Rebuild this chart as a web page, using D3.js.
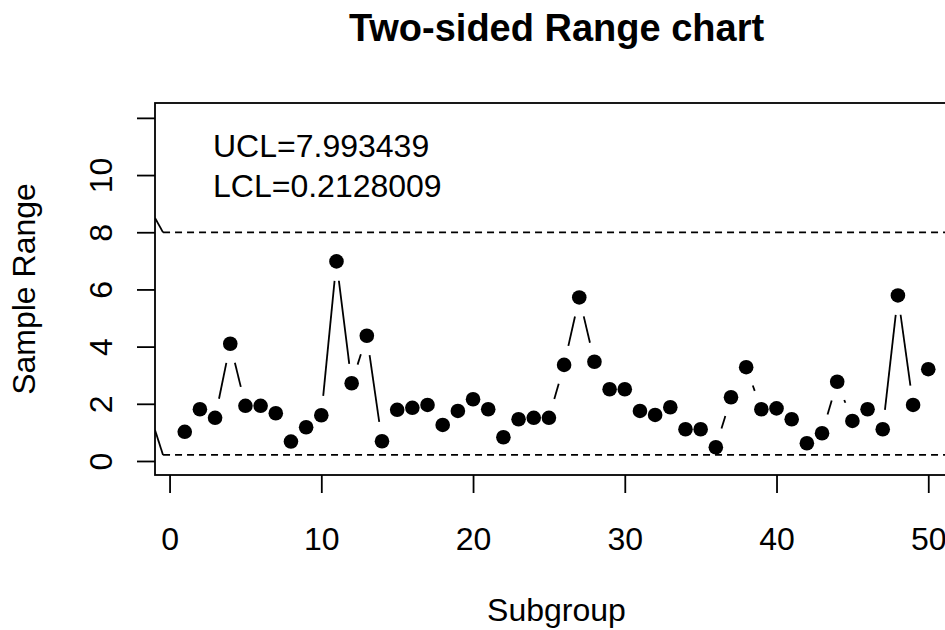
<!DOCTYPE html>
<html>
<head>
<meta charset="utf-8">
<script src="https://cdn.jsdelivr.net/npm/d3@7"></script>
<style>
  body { margin: 0; background: #fff; }
  text { font-family: "Liberation Sans", Arial, sans-serif; fill: #000; }
</style>
</head>
<body>
<div id="chart"></div>
<script>
// sample ranges per subgroup
const subgroups = d3.range(1, 51);
const ranges = [
  1.02, 1.81, 1.51, 4.10, 1.93, 1.93, 1.67, 0.68, 1.18, 1.60,
  6.98, 2.72, 4.38, 0.69, 1.79, 1.86, 1.96, 1.26, 1.75, 2.16,
  1.81, 0.83, 1.46, 1.51, 1.51, 3.36, 5.72, 3.47, 2.51, 2.51,
  1.75, 1.61, 1.88, 1.11, 1.11, 0.48, 2.23, 3.28, 1.81, 1.84,
  1.46, 0.62, 0.97, 2.77, 1.40, 1.81, 1.11, 5.79, 1.96, 3.21
];
const ucl = 7.993439,
      lcl = 0.2128009;
const limitLabels = ["UCL=7.993439", "LCL=0.2128009"];
const xTicks = [0, 10, 20, 30, 40, 50];
const yTicks = [0, 2, 4, 6, 8, 10, 12];
const yLabelled = [0, 2, 4, 6, 8, 10];   // the top tick has no label in the original
// short solid pieces entering the limits at the left edge of the box
const edgeStart = [-0.96, -0.43];
const edgeValues = [[8.5, ucl], [1.08, lcl]];

const width = 945,
      height = 630;
const box = { left: 155, right: 958, top: 103, bottom: 475 };

const svg = d3.select("#chart").append("svg")
    .attr("width", width)
    .attr("height", height);

const x = d3.scaleLinear()
    .domain([-0.96, 51.96])
    .range([box.left, box.right]);

const y = d3.scaleLinear()
    .domain([-0.49, 12.52])
    .range([box.bottom, box.top]);

svg.append("defs").append("clipPath")
    .attr("id", "plot-clip")
  .append("rect")
    .attr("x", box.left)
    .attr("y", box.top)
    .attr("width", box.right - box.left)
    .attr("height", box.bottom - box.top);

const plot = svg.append("g").attr("clip-path", "url(#plot-clip)");

// control limits
plot.selectAll(".limit")
  .data([ucl, lcl])
  .join("line")
    .attr("class", "limit")
    .attr("x1", x(edgeStart[1]))
    .attr("x2", x(53))
    .attr("y1", d => y(d))
    .attr("y2", d => y(d))
    .attr("stroke", "#000")
    .attr("stroke-width", 1.8)
    .attr("stroke-dasharray", "7,5");

plot.selectAll(".edge")
  .data(edgeValues)
  .join("line")
    .attr("class", "edge")
    .attr("x1", x(edgeStart[0]))
    .attr("x2", x(edgeStart[1]))
    .attr("y1", d => y(d[0]))
    .attr("y2", d => y(d[1]))
    .attr("stroke", "#000")
    .attr("stroke-width", 1.8);

// points + lines with gaps, like R's type = "b"
const pts = subgroups.map((s, i) => [x(s), y(ranges[i])]);
const gap = 19.5;
const segs = [];
for (let i = 1; i < pts.length; i++) {
  const [x0, y0] = pts[i - 1], [x1, y1] = pts[i];
  const d = Math.hypot(x1 - x0, y1 - y0);
  if (d > 2 * gap) {
    const ux = (x1 - x0) / d, uy = (y1 - y0) / d;
    segs.push([x0 + ux * gap, y0 + uy * gap, x1 - ux * gap, y1 - uy * gap]);
  }
}

plot.selectAll(".seg")
  .data(segs)
  .join("line")
    .attr("class", "seg")
    .attr("x1", d => d[0])
    .attr("y1", d => d[1])
    .attr("x2", d => d[2])
    .attr("y2", d => d[3])
    .attr("stroke", "#000")
    .attr("stroke-width", 1.8);

plot.selectAll(".dot")
  .data(pts)
  .join("circle")
    .attr("class", "dot")
    .attr("cx", d => d[0])
    .attr("cy", d => d[1])
    .attr("r", 7.3)
    .attr("fill", "#000");

// frame
svg.append("rect")
    .attr("x", box.left)
    .attr("y", box.top)
    .attr("width", box.right - box.left)
    .attr("height", box.bottom - box.top)
    .attr("fill", "none")
    .attr("stroke", "#000")
    .attr("stroke-width", 1.8);

// axes
const xAxis = svg.append("g")
    .attr("transform", `translate(0,${box.bottom})`)
    .call(d3.axisBottom(x).tickValues(xTicks).tickSize(18).tickPadding(34).tickSizeOuter(0));

const yAxis = svg.append("g")
    .attr("transform", `translate(${box.left},0)`)
    .call(d3.axisLeft(y).tickValues(yTicks).tickSize(18).tickSizeOuter(0)
      .tickFormat(d => yLabelled.includes(d) ? d : ""));

[xAxis, yAxis].forEach(g => {
  g.select(".domain").remove();
  g.selectAll(".tick line").attr("stroke", "#000").attr("stroke-width", 1.8);
  g.selectAll("text").attr("font-family", "Liberation Sans, Arial, sans-serif")
      .attr("font-size", 32).attr("fill", "#000");
});

yAxis.selectAll(".tick text")
    .attr("x", null).attr("dy", null)
    .attr("text-anchor", "middle")
    .attr("transform", "translate(-43,0) rotate(-90)");

// limit labels
svg.selectAll(".lim-label")
  .data(limitLabels)
  .join("text")
    .attr("class", "lim-label")
    .attr("x", 213)
    .attr("y", (d, i) => 157 + i * 40)
    .attr("font-size", 32)
    .text(d => d);

// title and axis titles
svg.append("text")
    .attr("x", (box.left + box.right) / 2)
    .attr("y", 41)
    .attr("text-anchor", "middle")
    .attr("font-size", 38)
    .attr("font-weight", "bold")
    .text("Two-sided Range chart");

svg.append("text")
    .attr("x", (box.left + box.right) / 2)
    .attr("y", 621)
    .attr("text-anchor", "middle")
    .attr("font-size", 32)
    .text("Subgroup");

svg.append("text")
    .attr("transform", `translate(35,${(box.top + box.bottom) / 2}) rotate(-90)`)
    .attr("text-anchor", "middle")
    .attr("font-size", 32)
    .text("Sample Range");
</script>
</body>
</html>
